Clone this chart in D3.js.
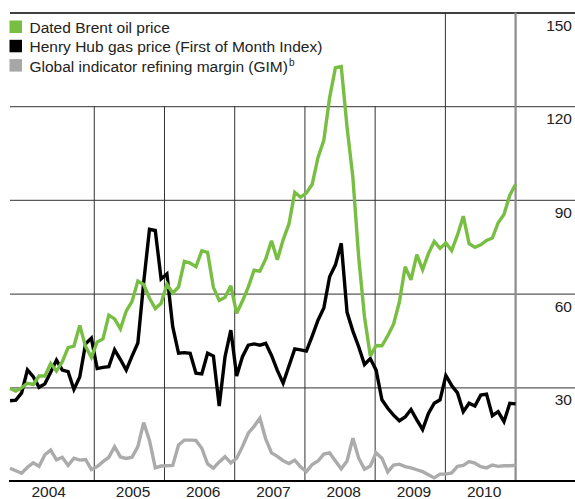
<!DOCTYPE html>
<html><head><meta charset="utf-8">
<script src="https://cdn.jsdelivr.net/npm/d3@7"></script>
<style>
html,body{margin:0;padding:0;background:#fff;}
svg{display:block;}
text{font-family:"Liberation Sans",Arial,Helvetica,sans-serif;}
</style>
</head><body>
<svg id="chart" width="575" height="499"></svg>
<script>
// ---------------- DATA (monthly, Oct 2003 – Jan 2011, $/bbl or $/boe) ----------------
const months = d3.timeMonth.range(new Date(2003, 9, 1), new Date(2011, 1, 1)).map(d3.timeFormat("%Y-%m"));

const brent = [29.6, 28.8, 29.8,
  31.3, 30.9, 33.6, 33.6, 37.6, 35.2, 38.2, 42.7, 43.2, 49.8, 43.1, 39.6,
  44.5, 45.5, 53.1, 51.9, 48.7, 54.4, 57.5, 64.0, 62.9, 58.5, 55.2, 56.9,
  63.0, 60.2, 62.1, 70.3, 69.8, 68.6, 73.7, 73.2, 62.0, 57.8, 58.8, 62.5,
  53.7, 57.6, 62.1, 67.5, 67.2, 71.1, 76.9, 70.8, 77.2, 82.3, 92.4, 90.9,
  92.2, 95.0, 103.6, 109.1, 122.8, 132.3, 132.7, 113.2, 97.2, 71.6, 52.5, 40.0,
  43.4, 43.3, 46.5, 50.2, 57.3, 68.6, 64.4, 72.5, 67.7, 72.8, 76.7, 74.5,
  76.2, 73.8, 78.8, 84.8, 76.0, 74.8, 75.6, 77.0, 77.8, 82.7, 85.3, 91.5,
  95.0];

const henryHub = [25.7, 25.9, 28.2,
  35.6, 33.4, 30.0, 31.1, 34.8, 38.7, 35.5, 35.0, 29.3, 33.3, 43.9, 45.7,
  36.0, 36.4, 36.6, 42.0, 38.9, 35.5, 40.0, 44.2, 63.5, 80.6, 80.2, 64.7,
  66.3, 49.4, 40.9, 41.1, 40.9, 34.5, 34.3, 40.9, 40.0, 24.0, 39.8, 48.3,
  33.6, 39.8, 43.5, 43.9, 43.5, 44.1, 40.2, 35.4, 31.3, 36.8, 42.3, 42.0,
  41.6, 46.4, 51.5, 55.4, 65.4, 69.2, 76.1, 54.0, 48.0, 43.0, 37.3, 39.2,
  35.5, 26.0, 23.3, 21.1, 19.3, 20.5, 22.9, 19.6, 16.5, 21.6, 24.9, 26.0,
  33.8, 30.6, 28.2, 22.2, 24.9, 24.0, 27.5, 27.8, 20.9, 22.2, 19.0, 24.9,
  24.7];

const gim = [4.1, 3.3, 2.5,
  4.4, 5.8, 4.7, 8.4, 9.9, 6.8, 7.6, 5.0, 7.3, 6.7, 6.9, 3.7,
  4.6, 6.2, 7.6, 11.0, 7.7, 7.2, 7.6, 11.0, 18.7, 13.0, 4.2, 4.8,
  4.9, 5.0, 11.5, 13.1, 13.1, 13.0, 10.5, 5.5, 4.1, 6.1, 7.8, 5.8,
  7.3, 11.0, 15.3, 17.5, 20.1, 13.5, 9.0, 7.9, 6.5, 5.6, 6.7, 4.5,
  3.0, 5.3, 6.4, 8.6, 9.0, 6.4, 3.9, 6.4, 13.7, 7.3, 3.8, 4.8,
  9.0, 7.3, 2.9, 5.1, 5.4, 4.6, 4.2, 3.6, 3.0, 2.0, 1.0, 2.2,
  2.2, 2.6, 4.7, 5.0, 6.2, 5.7, 4.6, 4.2, 5.1, 4.7, 4.9, 4.9,
  5.0];

const yearLabels = [2004, 2005, 2006, 2007, 2008, 2009, 2010];
const yTicks = [30, 60, 90, 120, 150];
const legendLabels = ["Dated Brent oil price", "Henry Hub gas price (First of Month Index)", "Global indicator refining margin (GIM)"];
const legendSup = ["", "", "b"];

(function draw() {
  // ---------------- LAYOUT ----------------
  const pLeft = 10, pRight = 575, plotRight = 515.6, pTop = 12.5, pBottom = 481;
  const legendRight = 400;
  const colors = { brent: "#78be43", hh: "#000000", gim: "#ababab" };
  const FONT = '"Liberation Sans",Arial,sans-serif';

  const svg = d3.select("#chart");

  const x = d3.scalePoint().domain(months).range([pLeft, plotRight]);
  const y = d3.scaleLinear().domain([0, 150]).range([pBottom, pTop]);
  const yearX = d3.scaleLinear().domain([2005, 2011])
    .range([(x("2004-12") + x("2005-01")) / 2, x("2011-01")]);

  // horizontal gridlines + right labels via axis
  const yAxis = d3.axisLeft(y).tickValues(yTicks).tickSize(pRight - pLeft).tickFormat(d3.format("d"));
  const gy = svg.append("g").attr("transform", `translate(${pRight},0)`).call(yAxis);
  gy.select(".domain").remove();
  gy.selectAll(".tick line")
    .attr("stroke", d => d === 150 ? "#000" : "#5a5a5a")
    .attr("stroke-width", d => d === 150 ? 1.6 : 1.2);
  gy.selectAll(".tick text")
    .attr("x", -3).attr("dy", 17.5).attr("text-anchor", "end")
    .attr("font-size", 15.5).attr("fill", "#222")
    .style("font-family", FONT);

  // vertical year separators
  const sepYears = d3.range(2005, 2012);
  svg.append("g").selectAll("line").data(sepYears).join("line")
    .attr("x1", d => yearX(d)).attr("x2", d => yearX(d))
    .attr("y1", d => yearX(d) < legendRight ? y(120) : y(150))
    .attr("y2", pBottom)
    .attr("stroke", d => d === 2011 ? "#8c8c8c" : "#333")
    .attr("stroke-width", d => d === 2011 ? 2.2 : 1);

  // series
  const line = d3.line().x((d, i) => x(months[i])).y(d => y(d));
  const series = [
    { key: "gim", values: gim, color: colors.gim },
    { key: "hh", values: henryHub, color: colors.hh },
    { key: "brent", values: brent, color: colors.brent }
  ];
  svg.append("g").selectAll("path").data(series).join("path")
    .attr("d", d => line(d.values))
    .attr("fill", "none")
    .attr("stroke", d => d.color)
    .attr("stroke-width", 3.4)
    .attr("stroke-linejoin", "miter")
    .attr("stroke-miterlimit", 3);

  // bottom axis: labels start a fixed gap after each year's left edge
  const yearStart = d => d === yearLabels[0] ? pLeft : yearX(d);
  const xAxis = d3.axisBottom(yearX).tickValues(yearLabels).tickSize(0).tickFormat(d3.format("d"));
  const gx = svg.append("g").attr("transform", `translate(0,${pBottom})`).call(xAxis);
  gx.select(".domain").remove();
  gx.selectAll(".tick text")
    .attr("x", d => yearStart(d) - yearX(d) + 21)
    .attr("y", 0).attr("dy", 15.6)
    .attr("text-anchor", "start")
    .attr("font-size", 15.5).attr("fill", "#222")
    .style("font-family", FONT);
  svg.append("line")
    .attr("x1", pLeft - 1).attr("x2", pRight)
    .attr("y1", pBottom).attr("y2", pBottom)
    .attr("stroke", "#000").attr("stroke-width", 2);

  // legend
  const legendColors = [colors.brent, colors.hh, "#a7a7a7"];
  const rows = svg.append("g").selectAll("g").data(legendLabels).join("g")
    .attr("transform", (d, i) => `translate(${pLeft - 0.5},${33 + i * 19.3})`);
  rows.append("rect").attr("x", 0).attr("y", -12.5).attr("width", 12.5).attr("height", 12.5)
    .attr("fill", (d, i) => legendColors[i]);
  const tx = rows.append("text").attr("x", 20).attr("y", 0)
    .attr("font-size", 15.5).attr("fill", "#222");
  tx.append("tspan").text(d => d);
  tx.each(function (d, i) {
    if (legendSup[i]) {
      d3.select(this).append("tspan")
        .attr("font-size", 10).attr("dy", -6).attr("dx", 1)
        .text(legendSup[i]);
    }
  });
})();
</script>
</body></html>
